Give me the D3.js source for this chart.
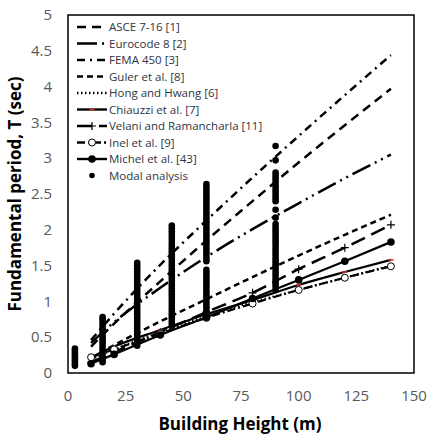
<!DOCTYPE html>
<html>
<head>
<meta charset="utf-8">
<style>
  body { margin: 0; background: #fff; }
  .tick-label { font-family: "Open Sans", sans-serif; font-size: 15px; fill: #595959; }
  .axis-title { font-family: "Open Sans", sans-serif; font-weight: bold; font-size: 17px; fill: #000; }
  .legend text { font-family: "Open Sans", sans-serif; font-size: 11.5px; fill: #2f3542; }
</style>
<script src="https://d3js.org/d3.v7.min.js"></script>
</head>
<body>
<script>
// building heights used for the code formulas (m)
var heights = [10, 20, 40, 60, 80, 100, 120, 140];

// fundamental period (sec)
var asce = [0.37, 0.69, 1.28, 1.85, 2.40, 2.94, 3.46, 3.97];
var euro = [0.42, 0.71, 1.19, 1.62, 2.01, 2.37, 2.72, 3.05];
var fema = [0.46, 0.83, 1.51, 2.13, 2.73, 3.31, 3.88, 4.44];
var guler = [0.21, 0.39, 0.72, 1.03, 1.34, 1.64, 1.93, 2.21];
var hong = [0.19, 0.33, 0.57, 0.79, 0.99, 1.16, 1.33, 1.50];
var chiauzzi = [0.22, 0.37, 0.60, 0.82, 1.02, 1.23, 1.41, 1.58];
var velani = [0.15, 0.29, 0.57, 0.85, 1.12, 1.45, 1.75, 2.07];
var inel = [0.22, 0.33, 0.55, 0.77, 0.97, 1.16, 1.33, 1.49];
var michel = [0.13, 0.26, 0.53, 0.78, 1.04, 1.30, 1.56, 1.83];

// modal analysis, one column per building height
var modalHeights = [3, 15, 30, 45, 60, 90];
var modal3 = [0.10, 0.13, 0.16, 0.19, 0.22, 0.25, 0.28, 0.31, 0.34];
var modal15 = [0.15, 0.19, 0.23, 0.27, 0.31, 0.35, 0.39, 0.43, 0.47, 0.51, 0.55, 0.59, 0.63, 0.67, 0.71, 0.75, 0.78];
var modal30 = [0.38, 0.42, 0.46, 0.50, 0.54, 0.58, 0.62, 0.66, 0.70, 0.74, 0.78, 0.82, 0.86, 0.90, 0.94, 0.98, 1.02, 1.06, 1.10, 1.14,
               1.18, 1.22, 1.26, 1.30, 1.34, 1.38, 1.42, 1.46, 1.50, 1.54];
var modal45 = [0.66, 0.70, 0.74, 0.78, 0.82, 0.86, 0.90, 0.94, 0.98, 1.02, 1.06, 1.10, 1.14, 1.18, 1.22, 1.26, 1.30, 1.34, 1.38, 1.42,
               1.46, 1.50, 1.54, 1.58, 1.62, 1.66, 1.70, 1.74, 1.78, 1.82, 1.86, 1.90, 1.94, 1.98, 2.02, 2.06];
var modal60 = [0.80, 0.84, 0.88, 0.92, 0.96, 1.00, 1.04, 1.08, 1.12, 1.16, 1.20, 1.24, 1.28, 1.32, 1.36, 1.40, 1.44,
               1.56, 1.60, 1.64, 1.68, 1.72, 1.76, 1.80, 1.84, 1.88, 1.92, 1.96, 2.00, 2.04, 2.08, 2.12, 2.16, 2.20, 2.24,
               2.28, 2.32, 2.36, 2.40, 2.44, 2.48, 2.52, 2.56, 2.60, 2.64];
var modal90 = [1.16, 1.20, 1.24, 1.28, 1.32, 1.36, 1.40, 1.44, 1.48, 1.52, 1.56, 1.60, 1.64, 1.68, 1.72, 1.76, 1.80, 1.84, 1.88,
               1.92, 1.96, 2.00, 2.04, 2.08, 2.17, 2.28, 2.40, 2.44, 2.48, 2.52, 2.56, 2.60, 2.64, 2.68, 2.72, 2.76, 2.80, 2.97, 3.17];

var xTicks = [0, 25, 50, 75, 100, 125, 150];
var yTicks = [0, 0.5, 1, 1.5, 2, 2.5, 3, 3.5, 4, 4.5, 5];

var width = 428, height = 434;
var plotLeft = 68, plotRight = 414, plotTop = 15, plotBottom = 373;

var svg = d3.select("body").append("svg")
    .attr("width", width)
    .attr("height", height);

var x = d3.scaleLinear().domain([0, 150]).range([plotLeft, plotRight]);
var y = d3.scaleLinear().domain([0, 5]).range([plotBottom, plotTop]);

// series styles
var series = [
  {name: "ASCE 7-16 [1]", values: asce, dash: "9,6", w: 2.5},
  {name: "Eurocode 8 [2]", values: euro, dash: "20,5,2,5,2,5", w: 2.5},
  {name: "FEMA 450 [3]", values: fema, dash: "8,5,2,5", w: 2.5},
  {name: "Guler et al. [8]", values: guler, dash: "6,4", w: 2.5},
  {name: "Hong and Hwang [6]", values: hong, dash: "1.5,2.5", w: 2},
  {name: "Chiauzzi et al. [7]", values: chiauzzi, dash: null, w: 2.2, marker: "red"},
  {name: "Velani and Ramancharla [11]", values: velani, dash: "15,7", w: 2.5, marker: "plus"},
  {name: "Inel et al. [9]", values: inel, dash: "8,3,2,3", w: 2.2, marker: "open"},
  {name: "Michel et al. [43]", values: michel, dash: null, w: 2.2, marker: "filled"}
];

// modal analysis dots
var modalCols = [modal3, modal15, modal30, modal45, modal60, modal90];
var modalPts = [];
modalCols.forEach(function(col, i) {
  col.forEach(function(v) { modalPts.push([modalHeights[i], v]); });
});

svg.append("g").selectAll("circle")
    .data(modalPts)
  .enter().append("circle")
    .attr("cx", function(d) { return x(d[0]); })
    .attr("cy", function(d) { return y(d[1]); })
    .attr("r", 3.3)
    .attr("fill", "#000");

var line = d3.line()
    .curve(d3.curveMonotoneX)
    .x(function(d) { return x(d[0]); })
    .y(function(d) { return y(d[1]); });

series.forEach(function(s) {
  var pts = heights.map(function(h, i) { return [h, s.values[i]]; });
  svg.append("path")
      .datum(pts)
      .attr("d", line)
      .attr("fill", "none")
      .attr("stroke", "#000")
      .attr("stroke-width", s.w)
      .attr("stroke-dasharray", s.dash);
  drawMarkers(svg, pts, s.marker);
});

function drawMarkers(g, pts, kind) {
  if (!kind) return;
  pts.forEach(function(p) {
    var cx = x(p[0]), cy = y(p[1]);
    if (kind === "red") {
      g.append("line").attr("x1", cx - 2.5).attr("x2", cx + 2.5).attr("y1", cy).attr("y2", cy)
        .attr("stroke", "#e0302a").attr("stroke-width", 1.6);
    } else if (kind === "plus") {
      g.append("path").attr("d", "M" + (cx - 4) + "," + cy + "H" + (cx + 4) + "M" + cx + "," + (cy - 4) + "V" + (cy + 4))
        .attr("stroke", "#000").attr("stroke-width", 1.2);
    } else if (kind === "open") {
      g.append("circle").attr("cx", cx).attr("cy", cy).attr("r", 3.5)
        .attr("fill", "#fff").attr("stroke", "#000").attr("stroke-width", 1);
    } else if (kind === "filled") {
      g.append("circle").attr("cx", cx).attr("cy", cy).attr("r", 3.8).attr("fill", "#000");
    }
  });
}

// frame
svg.append("rect")
    .attr("x", plotLeft).attr("y", plotTop)
    .attr("width", plotRight - plotLeft).attr("height", plotBottom - plotTop)
    .attr("fill", "none").attr("stroke", "#000").attr("stroke-width", 1.5);

// tick labels
svg.append("g").selectAll("text")
    .data(yTicks)
  .enter().append("text")
    .attr("class", "tick-label")
    .attr("x", 52)
    .attr("y", function(d) { return y(d); })
    .attr("dy", "0.35em")
    .attr("text-anchor", "end")
    .text(function(d) { return d; });

svg.append("g").selectAll("text")
    .data(xTicks)
  .enter().append("text")
    .attr("class", "tick-label")
    .attr("x", function(d) { return x(d); })
    .attr("y", 401)
    .attr("text-anchor", "middle")
    .text(function(d) { return d; });

// axis titles
svg.append("text")
    .attr("class", "axis-title")
    .attr("x", 240).attr("y", 430)
    .attr("text-anchor", "middle")
    .text("Building Height (m)");

svg.append("text")
    .attr("class", "axis-title")
    .attr("transform", "translate(21,194) rotate(-90)")
    .attr("text-anchor", "middle")
    .text("Fundamental period, T (sec)");

// legend
var legend = svg.append("g").attr("class", "legend");
var rowY = d3.scaleLinear().domain([0, 9]).range([27, 175.5]);
var legendItems = series.concat([{name: "Modal analysis", modal: true}]);

legendItems.forEach(function(s, i) {
  var yy = rowY(i);
  if (s.modal) {
    legend.append("circle").attr("cx", 92).attr("cy", yy).attr("r", 2.8).attr("fill", "#000");
  } else {
    legend.append("line")
        .attr("x1", 77).attr("x2", 107).attr("y1", yy).attr("y2", yy)
        .attr("stroke", "#000").attr("stroke-width", 2.4)
        .attr("stroke-dasharray", s.dash);
    drawMarkers(legend, [[x.invert(92), y.invert(yy)]], s.marker);
  }
  legend.append("text")
      .attr("x", 109).attr("y", yy)
      .attr("dy", "0.35em")
      .text(s.name);
});
</script>
</body>
</html>
